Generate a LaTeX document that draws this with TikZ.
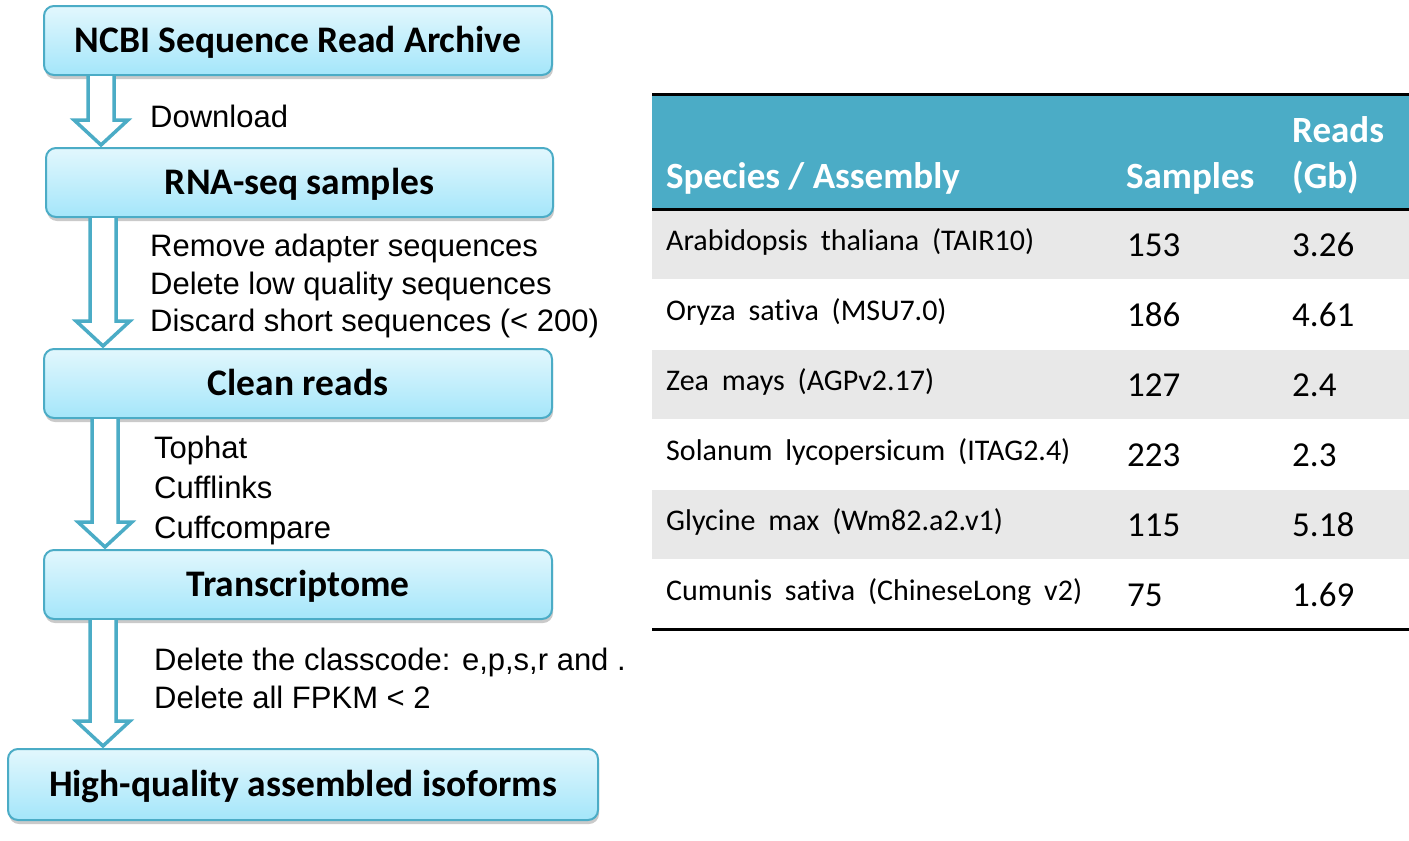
\documentclass[tikz,border=0pt]{standalone}
\usepackage{fontspec}
\setmainfont{Carlito}[Ligatures={NoCommon,NoContextual}]
\newfontfamily\rowfont{Carlito}[Ligatures={NoCommon,NoContextual},WordSpace=1.9]
\newfontfamily\arialfont{Liberation Sans}
\usetikzlibrary{shadows,calc}
\definecolor{aqua}{HTML}{4BACC6}
\definecolor{boxtop}{HTML}{E2F7FD}
\definecolor{boxbot}{HTML}{A4E6FA}
\definecolor{rowgrey}{HTML}{E8E8E8}

% block arrow from the bottom of one stage box to the top of the next
\newcommand\stagearrow[3]{%
  \draw[flowarrow] let \p1=(#1.south), \p2=(#2.north) in
    ({#3pt-13pt},\y1) -- ({#3pt-13pt},{\y2+27pt}) -- ({#3pt-27pt},{\y2+27pt})
    -- (#3pt,{\y2+2pt}) -- ({#3pt+27pt},{\y2+27pt}) -- ({#3pt+13pt},{\y2+27pt})
    -- ({#3pt+13pt},\y1);}

\begin{document}
\begin{tikzpicture}[x=1pt,y=-1pt,
  stagebox/.style={draw=aqua, line width=2pt, rounded corners=10pt,
    top color=boxtop, bottom color=boxbot, inner sep=0pt,
    minimum height=69pt, text height=24pt, text depth=0pt,
    font=\fontsize{37.5}{44}\selectfont\bfseries,
    drop shadow={shadow xshift=1pt, shadow yshift=-4pt, opacity=0.35, fill=black!60}},
  flowarrow/.style={draw=aqua, line width=3.5pt, fill=white, line join=miter},
  steptext/.style={anchor=base west, inner sep=0pt, align=left,
    font=\arialfont\fontsize{31}{38}\selectfont},
  headtext/.style={anchor=base west, inner sep=0pt, text=white,
    font=\fontsize{37}{44}\selectfont\bfseries},
  speciestext/.style={anchor=base west, inner sep=0pt,
    font=\rowfont\fontsize{30}{34}\selectfont},
  numtext/.style={anchor=base west, inner sep=0pt,
    font=\fontsize{35}{40}\selectfont},
]
\useasboundingbox (0,0) rectangle (1409,841);

% ---------- pipeline ----------
\node[stagebox, minimum width=508pt] (sra)   at (298,40.5)  {NCBI Sequence Read Archive};
\node[stagebox, minimum width=507pt] (rna)   at (299.5,182.5) {RNA-seq samples};
\node[stagebox, minimum width=508pt] (clean) at (298,383.5) {Clean reads};
\node[stagebox, minimum width=508pt] (trans) at (298,584.5) {Transcriptome};
\node[stagebox, minimum width=590pt, minimum height=71pt] (iso) at (303,784.5) {High-quality assembled isoforms};

\stagearrow{sra}{rna}{101}
\stagearrow{rna}{clean}{103}
\stagearrow{clean}{trans}{105}
\stagearrow{trans}{iso}{103}

\node[steptext] (t1) at (150,127) {Download};
\node[steptext] (t2a) at (150,256) {Remove adapter sequences};
\node[steptext] (t2b) at (150,294) {Delete low quality sequences};
\node[steptext] (t2c) at (150,331) {Discard short sequences (< 200)};
\node[steptext] (t3a) at (154,458) {Tophat};
\node[steptext] (t3b) at (154,498) {Cufflinks};
\node[steptext] (t3c) at (154,538) {Cuffcompare};
\node[steptext] (t4a) at (154,670) {Delete the classcode: e,p,s,r and .};
\node[steptext] (t4b) at (154,708) {Delete all FPKM < 2};

% ---------- table ----------
\fill[aqua] (652,95) rectangle (1409,209);
\fill[rowgrey] (652,210) rectangle (1409,279);
\fill[rowgrey] (652,350) rectangle (1409,419);
\fill[rowgrey] (652,490) rectangle (1409,559);
\draw[line width=3pt] (652,94.5) -- (1409,94.5);
\draw[line width=3pt] (652,209) -- (1409,209);
\draw[line width=3pt] (652,629) -- (1409,629);

\node[headtext] (hs) at (666,188) {Species / Assembly};
\node[headtext] (hn) at (1126,188) {Samples};
\node[headtext] (hr) at (1292,142) {Reads};
\node[headtext] (hg) at (1292,188) {(Gb)};

\foreach \sp/\n/\r [count=\i from 0] in {
  Arabidopsis thaliana (TAIR10)/153/3.26,
  Oryza sativa (MSU7.0)/186/4.61,
  Zea mays (AGPv2.17)/127/2.4,
  Solanum lycopersicum (ITAG2.4)/223/2.3,
  Glycine max (Wm82.a2.v1)/115/5.18,
  Cumunis sativa (ChineseLong v2)/75/1.69}{
  \node[speciestext] (sp\i) at (666,250+70*\i) {\sp};
  \node[numtext] (ns\i) at (1127,256+70*\i) {\n};
  \node[numtext] (nr\i) at (1292,256+70*\i) {\r};
}
\end{tikzpicture}
\end{document}
